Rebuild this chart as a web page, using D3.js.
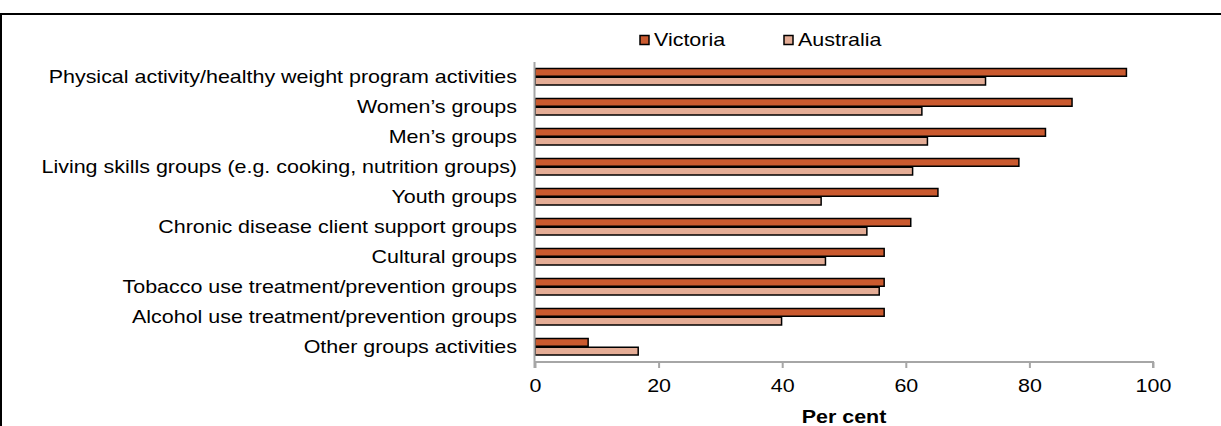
<!DOCTYPE html>
<html>
<head>
<meta charset="utf-8">
<script src="https://cdn.jsdelivr.net/npm/d3@7/dist/d3.min.js"></script>
<style>
  html, body { margin: 0; padding: 0; background: #fff; }
  svg { display: block; font-family: "Liberation Sans", Arial, sans-serif; }
</style>
</head>
<body>
<svg id="chart" width="1221" height="426"></svg>
<script>
const categories = [
  "Physical activity/healthy weight program activities",
  "Women\u2019s groups",
  "Men\u2019s groups",
  "Living skills groups (e.g. cooking, nutrition groups)",
  "Youth groups",
  "Chronic disease client support groups",
  "Cultural groups",
  "Tobacco use treatment/prevention groups",
  "Alcohol use treatment/prevention groups",
  "Other groups activities"
];
const victoria  = [95.7, 86.9, 82.6, 78.3, 65.2, 60.8, 56.5, 56.5, 56.5, 8.6];
const australia = [72.9, 62.6, 63.5, 61.1, 46.3, 53.7, 47.0, 55.7, 39.9, 16.7];
const seriesNames = ["Victoria", "Australia"];
const seriesColors = ["#CA5A2F", "#E4AC95"];
const xTicks = [0, 20, 40, 60, 80, 100];
const xTitle = "Per cent";

const FS = 18.5, SX = 1.16;
const svg = d3.select("#chart");

// frame (top and left edges visible)
svg.append("line").attr("x1", 1).attr("x2", 1221).attr("y1", 14).attr("y2", 14)
  .attr("stroke", "#000").attr("stroke-width", 2);
svg.append("line").attr("x1", 1).attr("x2", 1).attr("y1", 13).attr("y2", 426)
  .attr("stroke", "#000").attr("stroke-width", 2);

const x = d3.scaleLinear().domain([0, 100]).range([535, 1153]);
const y = d3.scaleBand().domain(categories).range([62, 362]).paddingInner(0).paddingOuter(0);
const inner = d3.scaleBand().domain(seriesNames).range([6, 23.5]);

const data = [victoria, australia];

const g = svg.append("g");
categories.forEach((c, i) => {
  seriesNames.forEach((s, j) => {
    const v = data[j][i];
    g.append("rect")
      .attr("x", x(0))
      .attr("y", y(c) + inner(s) + 0.5)
      .attr("width", x(v) - x(0))
      .attr("height", inner.bandwidth() - 1)
      .attr("fill", seriesColors[j])
      .attr("stroke", "#000")
      .attr("stroke-width", 1.5);
  });
});

// category labels
svg.append("g").selectAll("text").data(categories).join("text")
  .attr("transform", d => `translate(517,${y(d) + y.bandwidth() / 2 + 1}) scale(${SX},1)`)
  .attr("text-anchor", "end")
  .attr("dominant-baseline", "middle")
  .attr("font-size", FS)
  .attr("fill", "#000")
  .text(d => d);

// y axis line
svg.append("line").attr("x1", x(0) - 0.5).attr("x2", x(0) - 0.5).attr("y1", 62).attr("y2", 368)
  .attr("stroke", "#a6a6a6").attr("stroke-width", 2);

// x axis
const xAxis = d3.axisBottom(x).tickValues(xTicks).tickSize(6).tickPadding(11).tickFormat(d3.format("d"));
const ax = svg.append("g").attr("transform", "translate(0,362)").call(xAxis);
ax.select(".domain").attr("stroke", "#a6a6a6").attr("stroke-width", 2)
  .attr("d", `M${x(0)},0H${x(100)}V6`);
ax.selectAll(".tick line").attr("stroke", "#a6a6a6").attr("stroke-width", 2);
ax.selectAll(".tick text").attr("font-size", FS).attr("fill", "#000")
  .attr("transform", `scale(${SX},1)`)
  .attr("font-family", "'Liberation Sans', Arial, sans-serif");

svg.append("text")
  .attr("transform", `translate(${(x(0) + x(100)) / 2},423) scale(${SX},1)`)
  .attr("text-anchor", "middle")
  .attr("font-size", FS)
  .attr("font-weight", "bold")
  .text(xTitle);

// legend
const legendPos = [640, 784];
seriesNames.forEach((s, j) => {
  svg.append("rect")
    .attr("x", legendPos[j]).attr("y", 35.5)
    .attr("width", 9).attr("height", 9)
    .attr("fill", seriesColors[j]).attr("stroke", "#000").attr("stroke-width", 1.5);
  svg.append("text")
    .attr("transform", `translate(${legendPos[j] + 14},41) scale(${SX},1)`)
    .attr("dominant-baseline", "middle")
    .attr("font-size", FS)
    .text(s);
});
</script>
</body>
</html>
